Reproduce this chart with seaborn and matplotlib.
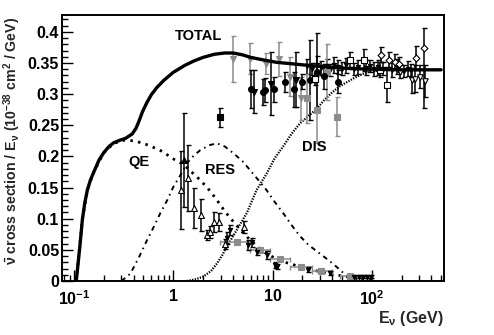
import numpy as np
import pandas as pd
import matplotlib
matplotlib.use("Agg")
import matplotlib.pyplot as plt
import matplotlib.ticker as mticker
import seaborn as sns

# ---------------- curves (E in GeV, sigma/E) ----------------
total_E = [0.105, 0.11, 0.115, 0.121, 0.128, 0.136, 0.146, 0.158, 0.178, 0.199, 0.225, 0.251, 0.29,
           0.33, 0.385, 0.42, 0.449, 0.49, 0.544, 0.6, 0.686, 0.8, 1.0, 1.3, 1.6, 2.0, 2.6, 3.3, 4.0,
           5.0, 6.0, 8.0, 11, 15, 20, 28, 40, 60, 100, 200, 500]
total_y = [0.0, 0.03, 0.06, 0.098, 0.125, 0.146, 0.162, 0.175, 0.194, 0.206, 0.216, 0.222, 0.226,
           0.229, 0.236, 0.245, 0.256, 0.272, 0.287, 0.299, 0.311, 0.322, 0.335, 0.346, 0.353, 0.359,
           0.364, 0.366, 0.366, 0.363, 0.359, 0.355, 0.351, 0.349, 0.347, 0.345, 0.343, 0.341, 0.340,
           0.339, 0.339]

qe_E = [0.105, 0.121, 0.136, 0.158, 0.199, 0.251, 0.32, 0.4, 0.5, 0.6, 0.75, 0.86, 1.0, 1.27, 1.6,
        1.87, 2.3, 2.75, 3.3, 4.04, 5.0, 5.94, 7.2, 8.7, 10.5, 12.8, 18.9, 25, 30, 40, 55, 75, 100]
qe_y = [0.0, 0.098, 0.146, 0.175, 0.206, 0.221, 0.226, 0.225, 0.221, 0.216, 0.209, 0.203, 0.196,
        0.187, 0.172, 0.162, 0.146, 0.13, 0.112, 0.095, 0.078, 0.066, 0.054, 0.044, 0.037, 0.031,
        0.023, 0.018, 0.015, 0.011, 0.007, 0.004, 0.0015]

res_E = [0.3, 0.37, 0.45, 0.545, 0.64, 0.74, 0.87, 1.0, 1.2, 1.37, 1.6, 1.87, 2.3, 2.75, 3.3, 4.04,
         5.0, 5.94, 7.2, 8.7, 10.5, 12.8, 15.5, 18.9, 23, 30, 37, 44, 50, 55, 64]
res_y = [0.0, 0.012, 0.038, 0.066, 0.088, 0.109, 0.13, 0.151, 0.172, 0.189, 0.201, 0.21, 0.218,
         0.221, 0.216, 0.205, 0.192, 0.178, 0.162, 0.146, 0.127, 0.109, 0.09, 0.072, 0.058, 0.044,
         0.033, 0.023, 0.015, 0.009, 0.0]

dis_E = [1.37, 1.7, 2.0, 2.4, 2.75, 3.1, 3.46, 4.36, 5.5, 6.9, 8.7, 10.5, 12.8, 15.5, 18.9, 23,
         27.8, 33, 40, 47, 65, 88, 120, 200, 500]
dis_y = [0.0, 0.003, 0.007, 0.016, 0.028, 0.041, 0.055, 0.082, 0.109, 0.146, 0.172, 0.197, 0.216,
         0.236, 0.253, 0.265, 0.276, 0.29, 0.303, 0.312, 0.325, 0.335, 0.338, 0.339, 0.339]

# ---------------- data sets ----------------
circ_E = [6.04, 7.95, 8.4, 10.4, 13.5, 16.5, 19.6, 23.7, 27.8, 33, 45.6]
circ_y = [0.308, 0.304, 0.307, 0.308, 0.319, 0.308, 0.320, 0.323, 0.336, 0.329, 0.320]
circ_e = [0.031, 0.021, 0.019, 0.020, 0.016, 0.028, 0.012, 0.064, 0.062, 0.020, 0.019]

btri_E = [6.5, 9.6, 17.2]
btri_y = [0.304, 0.317, 0.323]
btri_e = [0.035, 0.051, 0.044]

gtri_E = [4.04, 5.94, 8.5, 11.6, 15, 19.2]
gtri_y = [0.357, 0.357, 0.349, 0.356, 0.328, 0.293]
gtri_e = [0.037, 0.025, 0.017, 0.027, 0.031, 0.035]

gsq_E = [22.4, 27.8, 35, 45]
gsq_y = [0.293, 0.275, 0.336, 0.264]
gsq_e = [0.040, 0.054, 0.045, 0.032]

bsq_E = [2.97]
bsq_y = [0.263]
bsq_e = [0.015]

ftri_E = [1.29]
ftri_y = [0.194]
ftri_e = [0.076]

otri_E = [1.19, 1.39, 1.6, 1.9, 2.2, 2.35, 2.58, 2.9, 3.3, 5.1]
otri_y = [0.146, 0.165, 0.117, 0.106, 0.074, 0.079, 0.095, 0.095, 0.060, 0.087]
otri_e = [0.063, 0.053, 0.032, 0.025, 0.008, 0.010, 0.016, 0.014, 0.008, 0.010]

lsq_E = [4.4, 7.5, 11.9, 19.2, 31, 60]
lsq_y = [0.063, 0.050, 0.036, 0.023, 0.0166, 0.008]
lsq_lo = [2.96, 5.94, 9.4, 15.0, 24.8, 47.8]
lsq_hi = [5.94, 9.4, 15.0, 24.8, 39.5, 100]

small_E = [3.46, 3.7, 5.6, 6.2, 6.9, 8.7, 10.6, 11.0, 23, 38, 66, 74, 82, 90, 98]
small_y = [0.069, 0.082, 0.058, 0.062, 0.047, 0.042, 0.026, 0.023, 0.018, 0.013, 0.007, 0.007,
           0.007, 0.007, 0.007]
small_e = [0.010, 0.008, 0.008, 0.007, 0.006, 0.006, 0.005, 0.004, 0.004, 0.003, 0.002, 0.002,
           0.002, 0.002, 0.002]

dense_E = [22, 25, 28, 31, 35, 38, 42, 46, 50, 55, 66, 72, 88, 96, 105, 115, 130, 160, 180, 210,
           230, 250]
dense_y = [0.345, 0.340, 0.347, 0.342, 0.345, 0.339, 0.347, 0.343, 0.341, 0.346, 0.340, 0.344,
           0.342, 0.345, 0.340, 0.343, 0.341, 0.339, 0.344, 0.337, 0.341, 0.338]
dense_e = [0.012, 0.010, 0.014, 0.011, 0.012, 0.010, 0.013, 0.011, 0.010, 0.012, 0.010, 0.011,
           0.012, 0.010, 0.011, 0.012, 0.010, 0.011, 0.012, 0.010, 0.012, 0.010]

osq_E = [26.8, 61, 83, 120, 143]
osq_y = [0.324, 0.355, 0.355, 0.339, 0.315]
osq_e = [0.010, 0.012, 0.018, 0.012, 0.028]

odia_E = [125, 150, 170, 190, 277, 340]
odia_y = [0.363, 0.355, 0.352, 0.348, 0.358, 0.374]
odia_elo = [0.012, 0.012, 0.012, 0.012, 0.020, 0.096]
odia_ehi = [0.012, 0.012, 0.012, 0.012, 0.020, 0.032]

oitri_E = [193, 254, 270, 306, 345]
oitri_y = [0.336, 0.322, 0.325, 0.328, 0.321]
oitri_e = [0.010, 0.020, 0.022, 0.018, 0.025]

xtick_vals = [0.1, 1, 10, 100]
xtick_labels = ['10$^{-1}$', '1', '10', '10$^{2}$']
ytick_vals = [0, 0.05, 0.1, 0.15, 0.2, 0.25, 0.3, 0.35, 0.4]
ytick_labels = ['0', '0.05', '0.1', '0.15', '0.2', '0.25', '0.3', '0.35', '0.4']

# ---------------- style ----------------
sns.set_theme(style="white")
plt.rcParams['font.family'] = ['Liberation Sans', 'DejaVu Sans']
plt.rcParams['font.weight'] = 'bold'
plt.rcParams['mathtext.fontset'] = 'custom'
plt.rcParams['mathtext.rm'] = 'Liberation Sans:bold'
plt.rcParams['mathtext.it'] = 'Liberation Sans:bold'
plt.rcParams['mathtext.bf'] = 'Liberation Sans:bold'
plt.rcParams['mathtext.default'] = 'rm'

fig = plt.figure(figsize=(4.94, 3.35), dpi=100)
ax = fig.add_axes([62/494, 1-281/335, (444-62)/494, (281-15)/335])

GREY = '#8c8c8c'

def curve(E, y, **kw):
    sns.lineplot(x=E, y=y, ax=ax, estimator=None, sort=False, color='black', legend=False, **kw)

curve(dis_E, dis_y, linewidth=1.6, linestyle=(0, (0.6, 0.6)), zorder=2)
curve(res_E, res_y, linewidth=1.4, linestyle=(0, (2.5, 2.2, 0.8, 2.2)), zorder=2)
curve(qe_E, qe_y, linewidth=2.0, linestyle=(0, (0.9, 1.9)), zorder=2)


def pts(E, y, err, marker, face, edge, size, ecol, xerr=None):
    ax.errorbar(E, y, yerr=err, xerr=xerr, fmt='none', ecolor=ecol, elinewidth=1.1,
                capsize=1.8, capthick=1.0, zorder=3)
    sns.scatterplot(x=E, y=y, ax=ax, marker=marker, s=size, color=face, edgecolor=edge,
                    linewidth=0.8, zorder=4, legend=False)

pts(dense_E, dense_y, dense_e, 'v', 'black', 'black', 9, 'black')
pts(gtri_E, gtri_y, gtri_e, 'v', GREY, GREY, 18, GREY)
pts(gsq_E, gsq_y, gsq_e, 's', GREY, GREY, 16, GREY)
pts(circ_E, circ_y, circ_e, 'o', 'black', 'black', 18, 'black')
pts(btri_E, btri_y, btri_e, 'v', 'black', 'black', 18, 'black')
pts(bsq_E, bsq_y, bsq_e, 's', 'black', 'black', 18, 'black')
pts(ftri_E, ftri_y, ftri_e, '^', 'black', 'black', 18, 'black')
pts(otri_E, otri_y, otri_e, '^', 'white', 'black', 18, 'black')
lsq_xerr = [np.array(lsq_E) - np.array(lsq_lo), np.array(lsq_hi) - np.array(lsq_E)]
pts(lsq_E, lsq_y, None, 's', GREY, GREY, 18, GREY, xerr=lsq_xerr)
pts(small_E, small_y, small_e, 'v', 'black', 'black', 9, 'black')
pts(osq_E, osq_y, osq_e, 's', 'white', 'black', 20, 'black')
pts(odia_E, odia_y, [odia_elo, odia_ehi], 'D', 'white', 'black', 12, 'black')
pts(oitri_E, oitri_y, oitri_e, 'v', 'white', 'black', 16, 'black')

curve(total_E, total_y, linewidth=2.4, linestyle='-', zorder=5)

ax.set_xscale('log')
ax.set_xlim(0.0755, 535)
ax.set_ylim(0, 0.427)

ax.set_xticks(xtick_vals)
ax.set_xticklabels(xtick_labels)
ax.xaxis.set_minor_locator(mticker.LogLocator(base=10, subs=np.arange(2, 10)))
ax.xaxis.set_minor_formatter(mticker.NullFormatter())
ax.set_yticks(ytick_vals)
ax.set_yticklabels(ytick_labels)
ax.yaxis.set_minor_locator(mticker.MultipleLocator(0.01))

ax.tick_params(axis='both', which='major', direction='in', length=8, width=1.0,
               labelsize=11.5, top=False, right=False, bottom=True, left=True, colors='black')
ax.tick_params(axis='both', which='minor', direction='in', length=4, width=1.0,
               top=False, right=False, bottom=True, left=True, colors='black')
ax.tick_params(axis='x', which='major', pad=6)
ax.tick_params(axis='y', which='major', pad=2)
for lab in ax.get_xticklabels() + ax.get_yticklabels():
    lab.set_fontweight('bold')

for sp in ax.spines.values():
    sp.set_color('black')
    sp.set_linewidth(1.4)

ax.set_xlabel('')
ax.set_ylabel('')

tk = dict(fontsize=10.5, fontweight='bold', color='black', va='center', ha='left')
ax.text(1.04, 0.394, 'TOTAL', **tk)
ax.text(0.35, 0.191, 'QE', **tk)
ax.text(2.09, 0.178, 'RES', **tk)
ax.text(19.8, 0.215, 'DIS', **tk)

fig.text(444/494, 1-318/335, 'E$_{\\nu}$ (GeV)', ha='right', va='center', fontsize=11.5,
         fontweight='bold')
fig.text(12/494, 1-141/335,
         '$\\bar{\\nu}$ cross section / E$_{\\nu}$ (10$^{-38}$ cm$^{2}$ / GeV)',
         rotation=90, ha='center', va='center', fontsize=10.2, fontweight='bold')

fig.savefig('out.png', dpi=100)
